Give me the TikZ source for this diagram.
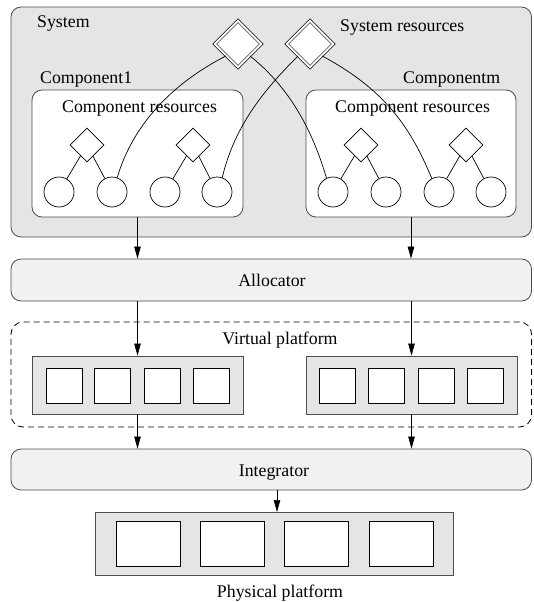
\documentclass[tikz,border=0pt]{standalone}
\usepackage{fontspec}
\setmainfont{Liberation Serif}
\usetikzlibrary{shapes.geometric,arrows.meta}
\definecolor{sysgray}{gray}{0.9}
\definecolor{palegray}{gray}{0.945}
\definecolor{edgegray}{gray}{0.3}
\begin{document}
\begin{tikzpicture}[x=1pt,y=-1pt,
  lbl/.style={inner sep=0pt, font=\fontsize{17.8}{20}\selectfont},
  box/.style={rectangle, draw=edgegray, line width=0.8pt, rounded corners=10pt, inner sep=0pt},
  sqbox/.style={rectangle, draw=edgegray, line width=0.8pt, inner sep=0pt},
  cell/.style={rectangle, draw=black, fill=white, line width=0.7pt, inner sep=0pt},
  bigd/.style={diamond, draw=black, fill=white, double=white, double distance=2pt, line width=0.6pt, inner sep=0pt, minimum width=46.8pt, minimum height=46.8pt},
  smalld/.style={diamond, draw=black, fill=white, line width=0.7pt, inner sep=0pt, minimum width=34pt, minimum height=34pt},
  circ/.style={circle, draw=black, fill=white, line width=0.7pt, inner sep=0pt, minimum size=30pt},
  link/.style={line width=0.7pt},
  arr/.style={line width=0.7pt, -{Triangle[length=12pt,width=6.5pt]}}
]
\useasboundingbox (0,0) rectangle (533,602);

% System
\node[box, fill=sysgray, minimum width=520.5pt, minimum height=230pt] (sys) at (271.25,122) {};
\node[box, fill=white, minimum width=211pt, minimum height=127pt] (comp1) at (137.5,153.5) {};
\node[box, fill=white, minimum width=210pt, minimum height=127pt] (compm) at (411,153.5) {};

\node[lbl, anchor=base west] (tsys) at (37,28) {System};
\node[lbl, anchor=base west] (tsr) at (340,32) {System resources};
\node[lbl, anchor=base west] (tc1) at (40,84) {Component1};
\node[lbl, anchor=base west] (tcm) at (403,84) {Componentm};
\node[lbl, anchor=base west] (tcr1) at (62,112) {Component resources};
\node[lbl, anchor=base west] (tcrm) at (335,112) {Component resources};

% big diamonds
\node[bigd] (sr1) at (238,44) {};
\node[bigd] (sr2) at (310,44) {};

% small diamonds and circles
\node[smalld] (d1) at (87,145) {};
\node[smalld] (d2) at (193,145) {};
\node[smalld] (d3) at (361,145) {};
\node[smalld] (d4) at (466,145) {};
\node[circ] (c1) at (59,192) {};
\node[circ] (c2) at (112,192) {};
\node[circ] (c3) at (165,192) {};
\node[circ] (c4) at (217,192) {};
\node[circ] (c5) at (333,192) {};
\node[circ] (c6) at (386,192) {};
\node[circ] (c7) at (439,192) {};
\node[circ] (c8) at (491,192) {};

\draw[link] (d1) -- (c1);
\draw[link] (d1) -- (c2);
\draw[link] (d2) -- (c3);
\draw[link] (d2) -- (c4);
\draw[link] (d3) -- (c5);
\draw[link] (d3) -- (c6);
\draw[link] (d4) -- (c7);
\draw[link] (d4) -- (c8);

% curves from system resources
\draw[link] (sr1.south west) .. controls (173,83) and (133,124) .. (c2.70);
\draw[link] (sr1.south east) .. controls (289,87) and (312,129) .. (c5.115);
\draw[link] (sr2.south west) .. controls (266,88) and (235,124) .. (c4.70);
\draw[link] (sr2.south east) .. controls (384,89) and (410,126) .. (c7.118);

% Allocator
\node[box, fill=palegray, minimum width=520.5pt, minimum height=42pt] (alloc) at (271.25,280) {};
\node[lbl, anchor=base] (talloc) at (272,286) {Allocator};

% Virtual platform
\node[box, draw=black, dash pattern=on 6pt off 4pt, rounded corners=12pt, minimum width=520.5pt, minimum height=105pt] (virt) at (271.25,374.5) {};
\node[lbl, anchor=base] (tvirt) at (280,344) {Virtual platform};
\node[sqbox, fill=sysgray, minimum width=211pt, minimum height=58pt] (vp1) at (137.5,385) {};
\node[sqbox, fill=sysgray, minimum width=211pt, minimum height=58pt] (vpm) at (411.5,385) {};
\foreach \i/\x in {1/64,2/112.5,3/162,4/211}{
  \node[cell, minimum width=36pt, minimum height=35pt] (va\i) at (\x,385.5) {};
}
\foreach \i/\x in {1/337,2/386.5,3/436,4/485}{
  \node[cell, minimum width=36pt, minimum height=35pt] (vb\i) at (\x,385.5) {};
}

% Integrator
\node[box, fill=palegray, minimum width=520.5pt, minimum height=41pt] (integ) at (271.25,469.5) {};
\node[lbl, anchor=base] (tinteg) at (274,476) {Integrator};

% Physical platform
\node[sqbox, fill=sysgray, minimum width=358pt, minimum height=63pt] (phys) at (274,543.5) {};
\foreach \i/\x in {1/148,2/232,3/316.5,4/401}{
  \node[cell, minimum width=64pt, minimum height=45pt] (p\i) at (\x,543.5) {};
}
\node[lbl, anchor=base] (tphys) at (280,597) {Physical platform};

% arrows
\draw[arr] (comp1.south) -- (comp1.south |- alloc.north);
\draw[arr] (compm.south) -- (compm.south |- alloc.north);
\draw[arr] (alloc.south -| vp1.north) -- (vp1.north);
\draw[arr] (alloc.south -| vpm.north) -- (vpm.north);
\draw[arr] (vp1.south) -- (vp1.south |- integ.north);
\draw[arr] (vpm.south) -- (vpm.south |- integ.north);
\coordinate (pin) at (277,512);
\draw[arr] (pin |- integ.south) -- (pin);
\end{tikzpicture}
\end{document}
